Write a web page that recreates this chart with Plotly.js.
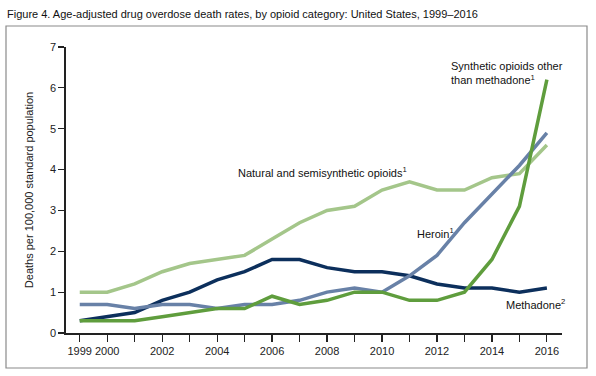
<!DOCTYPE html>
<html>
<head>
<meta charset="utf-8">
<script src="https://cdn.plot.ly/plotly-3.0.1.min.js"></script>
<style>html,body{margin:0;padding:0;background:#fff;}#chart{width:596px;height:376px;}</style>
</head>
<body>
<div id="chart"></div>
<script>
const years = [1999,2000,2001,2002,2003,2004,2005,2006,2007,2008,2009,2010,2011,2012,2013,2014,2015,2016];
const naturalSemi = [1.0,1.0,1.2,1.5,1.7,1.8,1.9,2.3,2.7,3.0,3.1,3.5,3.7,3.5,3.5,3.8,3.9,4.6];
const methadone   = [0.3,0.4,0.5,0.8,1.0,1.3,1.5,1.8,1.8,1.6,1.5,1.5,1.4,1.2,1.1,1.1,1.0,1.1];
const heroin      = [0.7,0.7,0.6,0.7,0.7,0.6,0.7,0.7,0.8,1.0,1.1,1.0,1.4,1.9,2.7,3.4,4.1,4.9];
const synthetic   = [0.3,0.3,0.3,0.4,0.5,0.6,0.6,0.9,0.7,0.8,1.0,1.0,0.8,0.8,1.0,1.8,3.1,6.2];
const tickLabels  = ['1999','2000','','2002','','2004','','2006','','2008','','2010','','2012','','2014','','2016'];
const yTicks = [0,1,2,3,4,5,6,7];

const font = 'Liberation Sans, Arial, sans-serif';
function tr(y, color){
  return {x: years, y: y, type:'scatter', mode:'lines', line:{color:color, width:3.5}, hoverinfo:'skip'};
}
const data = [
  tr(naturalSemi, '#a4c68a'),
  tr(methadone, '#0c2f5c'),
  tr(heroin, '#6881a7'),
  tr(synthetic, '#5f9d3d')
];

const layout = {
  width:596, height:376,
  margin:{l:66, r:34, t:47, b:43},
  paper_bgcolor:'#fff', plot_bgcolor:'#fff',
  showlegend:false,
  font:{family:font, size:11, color:'#222'},
  title:{text:'Figure 4. Age-adjusted drug overdose death rates, by opioid category: United States, 1999\u20132016',
    x:7/596, xanchor:'left', xref:'container', y:1-14/376, yanchor:'middle', yref:'container',
    font:{family:font, size:11, color:'#111'}},
  xaxis:{range:[1998.5,2016.55], tickvals:years, ticktext:tickLabels, ticks:'outside', ticklen:7, tickwidth:1.2,
    tickcolor:'#222', showline:true, linecolor:'#222', linewidth:1.5, showgrid:false, zeroline:false,
    tickfont:{family:font, size:11, color:'#222'}, fixedrange:true},
  yaxis:{range:[0,7], tickvals:yTicks, ticks:'outside', ticklen:6, tickwidth:1.2, tickcolor:'#222',
    showline:true, linecolor:'#222', linewidth:1.8, showgrid:false, zeroline:false,
    tickfont:{family:font, size:11, color:'#222'},
    title:{text:'Deaths per 100,000 standard population', font:{family:font, size:11, color:'#222'}, standoff:14},
    fixedrange:true},
  shapes:[{type:'rect', xref:'paper', yref:'paper', x0:(6-66)/496, x1:(587-66)/496, y0:(333-368)/286, y1:(333-26)/286,
    line:{color:'#8a8a8a', width:1.2}, fillcolor:'rgba(0,0,0,0)', layer:'below'}],
  annotations:[
    {text:'Synthetic opioids other<br>than methadone<sup>1</sup>', x:2012.44, y:6.72, xref:'x', yref:'y', xanchor:'left', yanchor:'top', align:'left', showarrow:false, font:{family:font, size:11, color:'#111'}},
    {text:'Natural and semisynthetic opioids<sup>1</sup>', x:2004.69, y:3.95, xref:'x', yref:'y', xanchor:'left', yanchor:'middle', align:'left', showarrow:false, font:{family:font, size:11, color:'#111'}},
    {text:'Heroin<sup>1</sup>', x:2011.2, y:2.44, xref:'x', yref:'y', xanchor:'left', yanchor:'middle', align:'left', showarrow:false, font:{family:font, size:11, color:'#111'}},
    {text:'Methadone<sup>2</sup>', x:2014.45, y:0.72, xref:'x', yref:'y', xanchor:'left', yanchor:'middle', align:'left', showarrow:false, font:{family:font, size:11, color:'#111'}}
  ]
};
Plotly.newPlot('chart', data, layout, {displayModeBar:false, staticPlot:true});
</script>
</body>
</html>
